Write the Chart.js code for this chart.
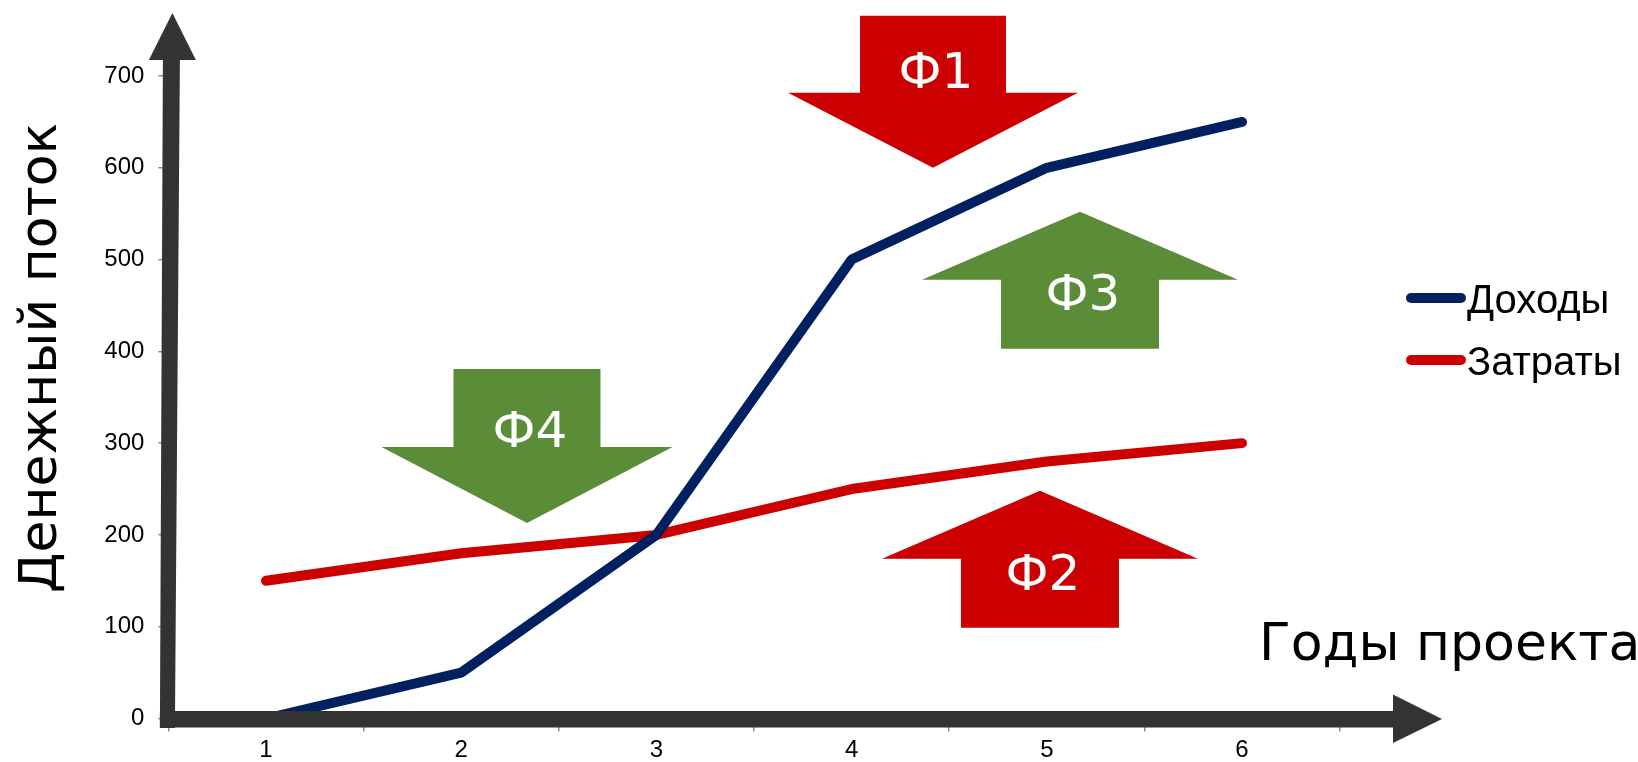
<!DOCTYPE html>
<html>
<head>
<meta charset="utf-8">
<script src="https://cdn.jsdelivr.net/npm/chart.js@4/dist/chart.umd.min.js"></script>
<style>
  html, body { margin: 0; padding: 0; background: #ffffff; }
  #wrap { width: 1638px; height: 762px; position: relative; }
</style>
</head>
<body>
<div id="wrap"><canvas id="cf"></canvas></div>
<script>
// Project years and cash flows
const years = ['1', '2', '3', '4', '5', '6'];
const incomeValues = [0, 50, 200, 500, 600, 650];
const costValues = [150, 180, 200, 250, 280, 300];
const seriesNames = ['Доходы', 'Затраты'];
const yMin = 0;
const yMax = 700;
const yStep = 100;
const xTitle = 'Годы проекта';
const yTitle = 'Денежный поток';

const NAVY = '#002060';
const RED = '#CC0000';
const GREEN = '#5B8D39';
const AXIS = '#333333';

// Factor arrows: placed by category position (index) and value of the tip
const factorArrows = [
  { text: 'Ф1', at: 3.417, tip: 600, dir: 1,  color: RED,   headH: 75, headW: 290, shaftW: 146, shaftL: 77, textDy: -80 },
  { text: 'Ф2', at: 3.965, tip: 248, dir: -1, color: RED,   headH: 68, headW: 316, shaftW: 158, shaftL: 69, textDy: 99 },
  { text: 'Ф3', at: 4.170, tip: 552, dir: -1, color: GREEN, headH: 68, headW: 316, shaftW: 158, shaftL: 69, textDy: 98 },
  { text: 'Ф4', at: 1.337, tip: 213, dir: 1,  color: GREEN, headH: 76, headW: 291, shaftW: 147, shaftL: 78, textDy: -76 }
];

const decorations = {
  id: 'decorations',
  afterDatasetsDraw(chart) {
    const { ctx, chartArea: a, scales: { x, y } } = chart;
    ctx.save();

    // block arrows with labels
    factorArrows.forEach(f => {
      const cx = x.getPixelForValue(f.at);
      const tip = y.getPixelForValue(f.tip);
      const d = f.dir;
      const base = tip - d * f.headH;
      const end = base - d * f.shaftL;
      ctx.beginPath();
      ctx.moveTo(cx, tip);
      ctx.lineTo(cx - f.headW / 2, base);
      ctx.lineTo(cx - f.shaftW / 2, base);
      ctx.lineTo(cx - f.shaftW / 2, end);
      ctx.lineTo(cx + f.shaftW / 2, end);
      ctx.lineTo(cx + f.shaftW / 2, base);
      ctx.lineTo(cx + f.headW / 2, base);
      ctx.closePath();
      ctx.fillStyle = f.color;
      ctx.fill();
      ctx.fillStyle = '#ffffff';
      ctx.font = '50px "DejaVu Sans"';
      ctx.textAlign = 'center';
      ctx.textBaseline = 'alphabetic';
      ctx.fillText(f.text, cx + 3, tip + f.textDy);
    });

    // axes drawn as thick arrows
    const x0 = a.left;
    const y0 = a.bottom;
    ctx.fillStyle = AXIS;
    // vertical shaft
    ctx.beginPath();
    ctx.moveTo(x0 - 5.5, 60);
    ctx.lineTo(x0 + 11.5, 60);
    ctx.lineTo(x0 + 6.5, y0 + 9.5);
    ctx.lineTo(x0 - 8.5, y0 + 9.5);
    ctx.closePath();
    ctx.fill();
    // vertical head
    ctx.beginPath();
    ctx.moveTo(x0 - 19.5, 60);
    ctx.lineTo(x0 + 27.5, 60);
    ctx.lineTo(x0 + 4, 13);
    ctx.closePath();
    ctx.fill();
    // horizontal shaft
    ctx.fillRect(x0 - 8.5, y0 - 7.5, 1393 - (x0 - 8.5), 16.5);
    // horizontal head
    ctx.beginPath();
    ctx.moveTo(1393, y0 - 24);
    ctx.lineTo(1442, y0 + 0.5);
    ctx.lineTo(1393, y0 + 24.5);
    ctx.closePath();
    ctx.fill();

    ctx.restore();
  },
  afterDraw(chart) {
    const { ctx } = chart;
    ctx.save();
    ctx.fillStyle = '#000000';

    // axis titles
    ctx.font = '52px "DejaVu Sans"';
    ctx.textAlign = 'left';
    ctx.textBaseline = 'alphabetic';
    ctx.fillText(xTitle, 1259, 660);

    ctx.save();
    ctx.translate(56, 358);
    ctx.rotate(-Math.PI / 2);
    ctx.textAlign = 'center';
    ctx.fillText(yTitle, 0, 0);
    ctx.restore();

    // legend
    chart.data.datasets.forEach((ds, i) => {
      const ly = 298 + i * 62;
      ctx.beginPath();
      ctx.moveTo(1411, ly);
      ctx.lineTo(1461, ly);
      ctx.lineWidth = 10;
      ctx.lineCap = 'round';
      ctx.strokeStyle = ds.borderColor;
      ctx.stroke();
      ctx.fillStyle = '#000000';
      ctx.font = '40px "Liberation Sans"';
      ctx.textAlign = 'left';
      ctx.textBaseline = 'alphabetic';
      ctx.fillText(ds.label, 1467, ly + 15);
    });
    ctx.restore();
  }
};

new Chart(document.getElementById('cf'), {
  type: 'line',
  data: {
    labels: years,
    datasets: [
      { label: seriesNames[0], data: incomeValues, borderColor: NAVY, backgroundColor: NAVY },
      { label: seriesNames[1], data: costValues, borderColor: RED, backgroundColor: RED }
    ]
  },
  options: {
    responsive: true,
    maintainAspectRatio: false,
    animation: false,
    events: [],
    layout: { padding: { top: 76, right: 298.4, bottom: 0, left: 0 } },
    elements: {
      line: { borderWidth: 10, tension: 0, borderCapStyle: 'round', borderJoinStyle: 'bevel' },
      point: { radius: 0, hoverRadius: 0 }
    },
    plugins: { legend: { display: false }, tooltip: { enabled: false } },
    scales: {
      x: {
        offset: true,
        border: { display: false },
        grid: { offset: true, drawOnChartArea: false, drawTicks: true, tickLength: 13, color: '#8c8c8c', lineWidth: 1.5 },
        ticks: { color: '#000000', font: { family: '"Liberation Sans", Arial', size: 24 }, padding: 4, maxRotation: 0 },
        afterFit(scale) { scale.height = 43.5; }
      },
      y: {
        min: yMin,
        max: yMax,
        border: { display: false },
        grid: { drawOnChartArea: false, drawTicks: true, tickLength: 10, color: '#8c8c8c', lineWidth: 1.5 },
        ticks: { stepSize: yStep, color: '#000000', font: { family: '"Liberation Sans", Arial', size: 24 }, padding: 14 },
        afterFit(scale) { scale.width = 168.4; }
      }
    }
  },
  plugins: [decorations]
});
</script>
</body>
</html>
